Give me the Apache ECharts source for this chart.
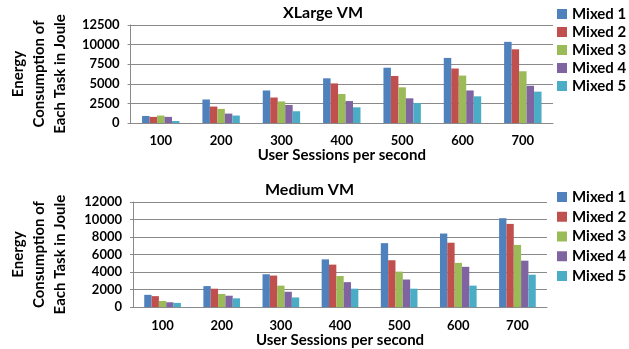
<!DOCTYPE html>
<html>
<head>
<meta charset="utf-8">
<script src="https://cdn.jsdelivr.net/npm/echarts@6/dist/echarts.min.js"></script>
<style>
  html, body { margin: 0; padding: 0; background: #fff; }
  #chart { width: 629px; height: 349px; }
</style>
</head>
<body>
<div id="chart"></div>
<script>
// categories
const sessions = ['100', '200', '300', '400', '500', '600', '700']
const mixNames = ['Mixed 1', 'Mixed 2', 'Mixed 3', 'Mixed 4', 'Mixed 5']
const mixColors = ['#4F81BD', '#C0504D', '#9BBB59', '#8064A2', '#4BACC6']

// XLarge VM values (Joule)
const xlMixed1 = [900, 3000, 4150, 5700, 7050, 8300, 10350]
const xlMixed2 = [780, 2100, 3250, 5050, 6000, 6950, 9400]
const xlMixed3 = [950, 1800, 2750, 3700, 4550, 6050, 6600]
const xlMixed4 = [780, 1200, 2300, 2800, 3150, 4150, 4750]
const xlMixed5 = [250, 950, 1500, 2000, 2550, 3400, 4000]

// Medium VM values (Joule)
const mdMixed1 = [1400, 2400, 3750, 5450, 7300, 8400, 10150]
const mdMixed2 = [1250, 2100, 3600, 4850, 5350, 7350, 9500]
const mdMixed3 = [700, 1500, 2450, 3550, 4050, 5050, 7100]
const mdMixed4 = [550, 1300, 1750, 2850, 3150, 4600, 5300]
const mdMixed5 = [480, 1000, 1100, 2100, 2100, 2450, 3700]

const xlData = [xlMixed1, xlMixed2, xlMixed3, xlMixed4, xlMixed5]
const mdData = [mdMixed1, mdMixed2, mdMixed3, mdMixed4, mdMixed5]

const font = 'Lato'
const gridColor = '#8a8a8a'
const yName = 'Energy\nConsumption of\nEach Task in Joule'

const makeX = (idx, margin, gap) => ({
  type: 'category',
  gridIndex: idx,
  data: sessions,
  axisLine: { lineStyle: { color: gridColor } },
  axisTick: { show: false },
  axisLabel: { color: '#000', fontFamily: font, fontWeight: 'bold', fontSize: 13, margin: margin },
  name: 'User Sessions per second',
  nameLocation: 'middle',
  nameGap: gap,
  nameTextStyle: { color: '#000', fontFamily: font, fontWeight: 'bold', fontSize: 15 }
})

const makeY = (idx, max, interval, gap) => ({
  type: 'value',
  gridIndex: idx,
  min: 0,
  max: max,
  interval: interval,
  axisLine: { show: true, lineStyle: { color: gridColor } },
  axisTick: { show: true, length: 3, lineStyle: { color: gridColor } },
  splitLine: { lineStyle: { color: gridColor } },
  axisLabel: { color: '#000', fontFamily: font, fontWeight: 'bold', fontSize: 13, margin: 11, formatter: v => String(v) },
  name: yName,
  nameLocation: 'middle',
  nameRotate: 90,
  nameGap: gap,
  nameTextStyle: { color: '#000', fontFamily: font, fontWeight: 'bold', fontSize: 15, lineHeight: 21, align: 'center' }
})

const makeSeries = (data, idx) => data.map((vals, i) => ({
  name: mixNames[i],
  type: 'bar',
  xAxisIndex: idx,
  yAxisIndex: idx,
  data: vals,
  barGap: '0%',
  barCategoryGap: '38%',
  itemStyle: { color: mixColors[i] },
  animation: false
}))

const makeLegend = (top, gap) => ({
  data: mixNames,
  orient: 'vertical',
  left: 557,
  top: top,
  padding: 0,
  itemWidth: 10,
  itemHeight: 10,
  itemGap: gap,
  icon: 'rect',
  textStyle: { color: '#000', fontFamily: font, fontWeight: 'bold', fontSize: 15, lineHeight: 18 }
})

const chart = echarts.init(document.getElementById('chart'))
chart.setOption({
  animation: false,
  backgroundColor: '#fff',
  title: [
    { text: 'XLarge VM', left: 283, top: 5, padding: 0, textStyle: { color: '#000', fontFamily: font, fontWeight: 'bold', fontSize: 16 } },
    { text: 'Medium VM', left: 265, top: 182, padding: 0, textStyle: { color: '#000', fontFamily: font, fontWeight: 'bold', fontSize: 16 } }
  ],
  legend: [makeLegend(5, 0), makeLegend(188, 1.75)],
  grid: [
    { left: 117, right: 76, top: 25, height: 98 },
    { left: 127, right: 82, top: 202, height: 107 }
  ],
  xAxis: [makeX(0, 11, 21), makeX(1, 12, 23)],
  yAxis: [makeY(0, 12500, 2500, 58), makeY(1, 12000, 2000, 62)],
  series: [...makeSeries(xlData, 0), ...makeSeries(mdData, 1)]
})
</script>
</body>
</html>
